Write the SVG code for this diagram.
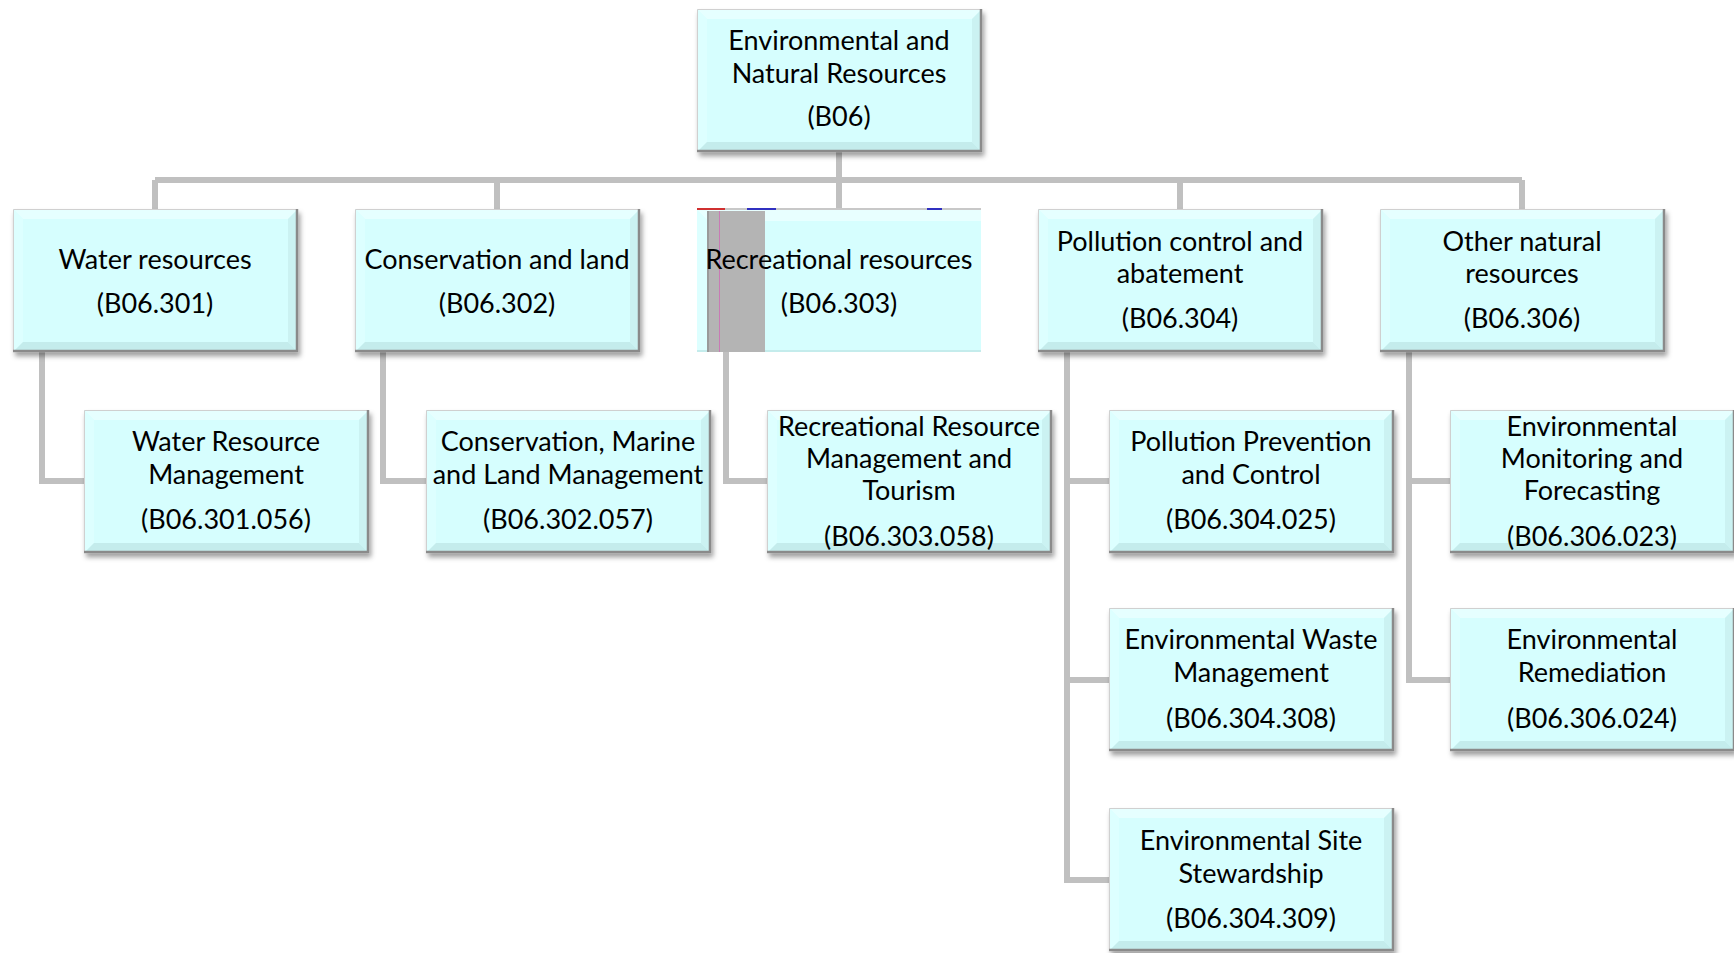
<svg xmlns="http://www.w3.org/2000/svg" xmlns:xlink="http://www.w3.org/1999/xlink" width="1734" height="953" viewBox="0 0 1734 953">
  <style>
    .t { font-family: Lato, "Open Sans", "Liberation Sans", sans-serif; font-size: 27px; fill: #000; text-anchor: middle; }
    .wire { fill: none; stroke: #C0C0C0; stroke-width: 6; stroke-linejoin: miter; }
  </style>
  <defs>
    <filter id="shadow" x="-5%" y="-5%" width="115%" height="120%">
      <feDropShadow dx="2" dy="4" stdDeviation="2.5" flood-color="#000" flood-opacity="0.38"/>
    </filter>
    <!-- bevelled cyan card, 285 x 143 -->
    <g id="card">
      <rect x="0" y="0" width="285" height="143" fill="#D6FEFE"/>
      <polygon points="0,0 285,0 275,10 10,10" fill="#E6FFFF"/>
      <polygon points="0,0 10,10 10,133 0,143" fill="#DDFFFF"/>
      <polygon points="285,0 285,143 275,133 275,10" fill="#CBF2F2"/>
      <polygon points="0,143 285,143 275,133 10,133" fill="#C4ECEC"/>
      <path d="M0.5,143 V0.5 H285" fill="none" stroke="#D0D0D0" stroke-width="1"/>
      <path d="M284,0 V142 H0" fill="none" stroke="#8A8A8A" stroke-width="2.5"/>
    </g>
  </defs>
  <rect width="1734" height="953" fill="#FFFFFF"/>

  <!-- connectors -->
  <g id="connectors" class="wire">
    <path d="M839,151 V209"/>
    <path d="M155,180 H1522"/>
    <path d="M155,180 V209"/>
    <path d="M497,180 V209"/>
    <path d="M1180,180 V209"/>
    <path d="M1522,180 V209"/>
    <path d="M42,352 V481 H84"/>
    <path d="M383,352 V481 H426"/>
    <path d="M726,352 V481 H767"/>
    <path d="M1067,352 V880 H1109"/>
    <path d="M1067,481 H1109"/>
    <path d="M1067,680 H1109"/>
    <path d="M1409,352 V680 H1450"/>
    <path d="M1409,481 H1450"/>
  </g>

  <!-- root -->
  <g id="b06">
    <use xlink:href="#card" href="#card" x="697" y="9" filter="url(#shadow)"/>
    <text class="t" x="839" y="50">Environmental and</text>
    <text class="t" x="839" y="83">Natural Resources</text>
    <text class="t" x="839" y="126">(B06)</text>
  </g>

  <!-- second level -->
  <g id="b06-301">
    <use xlink:href="#card" href="#card" x="13" y="209" filter="url(#shadow)"/>
    <text class="t" x="155" y="269">Water resources</text>
    <text class="t" x="155" y="313">(B06.301)</text>
  </g>
  <g id="b06-302">
    <use xlink:href="#card" href="#card" x="355" y="209" filter="url(#shadow)"/>
    <text class="t" x="497" y="269">Conservation and land</text>
    <text class="t" x="497" y="313">(B06.302)</text>
  </g>
  <g id="b06-303">
    <rect x="697" y="210" width="284" height="142" fill="#D6FEFE"/>
    <polygon points="697,210 981,210 981,221 708,221" fill="#E8FFFF"/>
    <polygon points="697,210 708,221 708,352 697,352" fill="#DDFFFF"/>
    <rect x="697" y="350" width="284" height="2" fill="#C4ECEC"/>
    <rect x="697" y="208" width="284" height="2" fill="#C8C8C8"/>
    <rect x="697" y="208" width="28" height="2" fill="#D03030"/>
    <rect x="747" y="208" width="29" height="2" fill="#3030C0"/>
    <rect x="927" y="208" width="15" height="2" fill="#3030C0"/>
    <rect x="707" y="211" width="58" height="141" fill="#B4B4B4"/>
    <rect x="707" y="211" width="2" height="141" fill="#9A9A9A"/>
    <rect x="719" y="211" width="1" height="141" fill="#C87AB4"/>
    <text class="t" x="839" y="269">Recreational resources</text>
    <text class="t" x="839" y="313">(B06.303)</text>
  </g>
  <g id="b06-304">
    <use xlink:href="#card" href="#card" x="1038" y="209" filter="url(#shadow)"/>
    <text class="t" x="1180" y="251">Pollution control and</text>
    <text class="t" x="1180" y="283">abatement</text>
    <text class="t" x="1180" y="328">(B06.304)</text>
  </g>
  <g id="b06-306">
    <use xlink:href="#card" href="#card" x="1380" y="209" filter="url(#shadow)"/>
    <text class="t" x="1522" y="251">Other natural</text>
    <text class="t" x="1522" y="283">resources</text>
    <text class="t" x="1522" y="328">(B06.306)</text>
  </g>

  <!-- third level -->
  <g id="b06-301-056">
    <use xlink:href="#card" href="#card" x="84" y="410" filter="url(#shadow)"/>
    <text class="t" x="226" y="451">Water Resource</text>
    <text class="t" x="226" y="484">Management</text>
    <text class="t" x="226" y="529">(B06.301.056)</text>
  </g>
  <g id="b06-302-057">
    <use xlink:href="#card" href="#card" x="426" y="410" filter="url(#shadow)"/>
    <text class="t" x="568" y="451">Conservation, Marine</text>
    <text class="t" x="568" y="484">and Land Management</text>
    <text class="t" x="568" y="529">(B06.302.057)</text>
  </g>
  <g id="b06-303-058">
    <use xlink:href="#card" href="#card" x="767" y="410" filter="url(#shadow)"/>
    <text class="t" x="909" y="436">Recreational Resource</text>
    <text class="t" x="909" y="468">Management and</text>
    <text class="t" x="909" y="500">Tourism</text>
    <text class="t" x="909" y="546">(B06.303.058)</text>
  </g>
  <g id="b06-304-025">
    <use xlink:href="#card" href="#card" x="1109" y="410" filter="url(#shadow)"/>
    <text class="t" x="1251" y="451">Pollution Prevention</text>
    <text class="t" x="1251" y="484">and Control</text>
    <text class="t" x="1251" y="529">(B06.304.025)</text>
  </g>
  <g id="b06-304-308">
    <use xlink:href="#card" href="#card" x="1109" y="608" filter="url(#shadow)"/>
    <text class="t" x="1251" y="649">Environmental Waste</text>
    <text class="t" x="1251" y="682">Management</text>
    <text class="t" x="1251" y="728">(B06.304.308)</text>
  </g>
  <g id="b06-304-309">
    <use xlink:href="#card" href="#card" x="1109" y="808" filter="url(#shadow)"/>
    <text class="t" x="1251" y="850">Environmental Site</text>
    <text class="t" x="1251" y="883">Stewardship</text>
    <text class="t" x="1251" y="928">(B06.304.309)</text>
  </g>
  <g id="b06-306-023">
    <use xlink:href="#card" href="#card" x="1450" y="410" filter="url(#shadow)"/>
    <text class="t" x="1592" y="436">Environmental</text>
    <text class="t" x="1592" y="468">Monitoring and</text>
    <text class="t" x="1592" y="500">Forecasting</text>
    <text class="t" x="1592" y="546">(B06.306.023)</text>
  </g>
  <g id="b06-306-024">
    <use xlink:href="#card" href="#card" x="1450" y="608" filter="url(#shadow)"/>
    <text class="t" x="1592" y="649">Environmental</text>
    <text class="t" x="1592" y="682">Remediation</text>
    <text class="t" x="1592" y="728">(B06.306.024)</text>
  </g>
</svg>
